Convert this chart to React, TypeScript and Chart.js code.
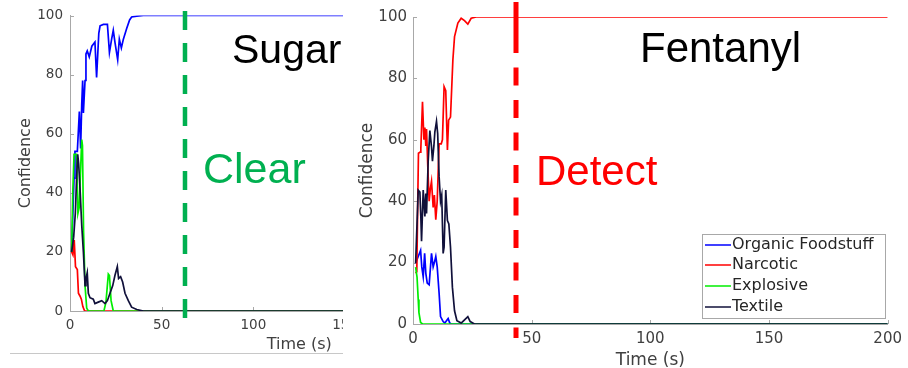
import React, { useEffect, useRef } from "react";
import { Chart, registerables } from "chart.js";

Chart.register(...registerables);

type Pair = [number, number];

// ---------- DATA ----------
const SERIES_LABELS = ["Organic Foodstuff", "Narcotic", "Explosive", "Textile"];
const SERIES_COLORS = ["#0000ff", "#ff0000", "#00ee00", "#10103a"];
const Y_TICK_STEP = 20;
const X_TICK_STEP = 50;

// Sugar panel (time s, confidence)
const sugarOrganic: Pair[] = [
  [0.9, 20], [2.2, 45], [2.7, 54], [4.0, 54], [5.1, 67.5], [5.8, 55], [6.4, 70], [6.9, 78], [7.3, 67],
  [8.2, 78], [8.7, 87], [9.4, 88], [10.5, 86], [11.9, 89.6], [13.6, 91], [14.5, 79], [15.7, 94],
  [16.4, 96.5], [18.2, 97], [20.4, 97], [21.5, 87.5], [22.7, 92], [23.6, 95], [24.5, 91], [26, 85],
  [26.9, 92], [28, 89], [29.1, 92], [30.9, 95.6], [32.5, 98.5], [33.6, 99.5], [36.4, 99.8], [40, 100],
  [250, 100],
];
const sugarNarcotic: Pair[] = [
  [0.9, 20], [1.6, 19], [2.3, 24], [3.0, 15], [4.0, 14], [4.6, 6], [5.5, 5], [6.2, 4], [7.0, 1.5], [8, 0],
  [250, 0],
];
const sugarExplosive: Pair[] = [
  [0.9, 20], [1.5, 40], [2.2, 53], [3.6, 53], [4.3, 33], [5.0, 35], [6.4, 58], [6.8, 56], [7.4, 27],
  [8.2, 8.6], [9.1, 1], [10, 0], [18.5, 0], [19.6, 3], [20.9, 12.5], [21.5, 12], [22.4, 3.5], [23.6, 0],
  [250, 0],
];
const sugarTextile: Pair[] = [
  [0.9, 20], [2.0, 25], [2.9, 33], [3.6, 45], [4.2, 53], [4.7, 50], [5.5, 41], [6.4, 29], [7.3, 20],
  [8.2, 8.6], [8.7, 11], [9.4, 13], [10, 6], [10.9, 4.5], [12.7, 4], [13.6, 2.5], [15.4, 3], [17.3, 3.5],
  [19.1, 2.5], [20.4, 3.5], [21.8, 6], [23.3, 8.6], [24.5, 12], [25.8, 15], [26.5, 11], [27.6, 11.6],
  [28.7, 9.8], [30, 6], [31.8, 3.5], [33.6, 1.3], [36.4, 0.5], [40, 0], [250, 0],
];

// Fentanyl panel
const fentOrganic: Pair[] = [
  [1.1, 19.8], [2.2, 22], [3.2, 24], [3.7, 18.6], [4.3, 15.4], [4.9, 23], [5.4, 16.5], [6.0, 13.3],
  [6.8, 12.8], [7.8, 23], [8.5, 18.6], [9.0, 20], [9.6, 22], [10.2, 18.6], [11.0, 10], [11.6, 2.4],
  [12.7, 0.8], [13.4, 0.3], [14.8, 1.8], [15.5, 0.3], [16.1, 0], [200, 0],
];
const fentNarcotic: Pair[] = [
  [1.1, 16.5], [1.6, 17], [2.0, 40], [2.3, 55.6], [3.0, 56], [3.3, 57], [4.0, 72.4], [4.6, 60], [5.0, 64],
  [5.4, 58], [5.7, 63.5], [6.2, 52], [6.8, 40], [7.3, 44], [7.8, 46.5], [8.5, 38], [9.0, 42], [9.6, 34],
  [10.2, 40], [11.0, 58.7], [11.9, 58.7], [12.4, 60], [13.1, 77.3], [13.8, 76], [14.5, 56.7], [15.0, 66.4],
  [15.8, 67.4], [16.8, 86], [17.5, 93.6], [18.9, 98], [20.3, 99.6], [21.7, 98.8], [23.1, 97.7],
  [24.5, 99.6], [26.6, 100], [200, 100],
];
const fentExplosive: Pair[] = [
  [1.1, 18.5], [1.7, 15.3], [2.2, 8], [2.5, 3.7], [3.2, 0.5], [4, 0], [200, 0],
];
const fentTextile: Pair[] = [
  [1.1, 19.8], [2.2, 43.6], [2.9, 43], [3.3, 35], [3.6, 27], [4.3, 43.6], [5.0, 35], [5.4, 42.5],
  [5.7, 36], [6.4, 53], [7.1, 63], [7.8, 57.7], [8.2, 53], [8.8, 58], [9.2, 62.5], [9.9, 66], [10.4, 62],
  [11.0, 48], [11.6, 40], [12.1, 42], [12.7, 23], [13.1, 25], [13.8, 43.6], [14.5, 33.7], [15.1, 32.6],
  [15.8, 25], [16.6, 12], [17.5, 4.3], [18.5, 1.1], [20.3, 0.3], [21.5, 1.2], [23.1, 2.4], [24.1, 0.8],
  [25.9, 0], [200, 0],
];

// decision markers (time, s)
const SUGAR_DECISION_T = 62.7;
const FENT_DECISION_T = 43.4;
const SUGAR_TEXTS = ["Sugar", "Clear"];
const FENT_TEXTS = ["Fentanyl", "Detect"];

// ---------- STYLE ----------
const AXIS_COLOR = "#a8a8a8";
const TICK_COLOR = "#404040";
const FONT = "DejaVu Sans";
const BIG_FONT = "Liberation Sans";

interface PanelSpec {
  width: number;
  height: number;
  xMax: number;
  series: Pair[][];
  pad: { top: number; right: number };
  yAxisW: number;
  xAxisH: number;
  tickSize: number;
  labelSize: number;
  yTickPad: number;
  xTickPad: number;
  yTitlePad: number;
  xTitlePad: number;
  marker: { t: number; color: string; width: number; y0: number; y1: number; first: number; dash: number; gap: number };
  texts: { text: string; x: number; y: number; size: number; color: string }[];
  legend?: { x0: number; y0: number; x1: number; y1: number; rows: number[]; lineX0: number; lineX1: number; textX: number; size: number };
}

const leftSpec: PanelSpec = {
  width: 560,
  height: 368,
  xMax: 250,
  series: [sugarOrganic, sugarNarcotic, sugarExplosive, sugarTextile],
  pad: { top: 15.5, right: 31.5 },
  yAxisW: 70,
  xAxisH: 57,
  tickSize: 13.5,
  labelSize: 16,
  yTickPad: 7,
  xTickPad: 6,
  yTitlePad: 16.4,
  xTitlePad: 13.5,
  marker: { t: SUGAR_DECISION_T, color: "#00b050", width: 4.5, y0: 11, y1: 323, first: 19, dash: 19, gap: 13 },
  texts: [
    { text: SUGAR_TEXTS[0], x: 232, y: 63, size: 41, color: "#000000" },
    { text: SUGAR_TEXTS[1], x: 203, y: 183, size: 43, color: "#00b050" },
  ],
};

const rightSpec: PanelSpec = {
  width: 553,
  height: 368,
  xMax: 200,
  series: [fentOrganic, fentNarcotic, fentExplosive, fentTextile],
  pad: { top: 17, right: 16 },
  yAxisW: 58,
  xAxisH: 44,
  tickSize: 15,
  labelSize: 17,
  yTickPad: 6,
  xTickPad: 6,
  yTitlePad: 2.5,
  xTitlePad: -3,
  marker: { t: FENT_DECISION_T, color: "#ff0000", width: 5, y0: 2, y1: 338, first: 51, dash: 18, gap: 14.5 },
  texts: [
    { text: FENT_TEXTS[0], x: 285, y: 62, size: 42, color: "#000000" },
    { text: FENT_TEXTS[1], x: 181, y: 185, size: 42, color: "#ff0000" },
  ],
  legend: { x0: 347, y0: 234, x1: 530, y1: 318, rows: [245, 265, 286, 307], lineX0: 350, lineX1: 376, textX: 377, size: 16 },
};

function buildChart(canvas: HTMLCanvasElement, spec: PanelSpec) {
  const overlay = {
    id: "overlay",
    beforeDatasetsDraw(chart: any) {
      const { ctx, chartArea } = chart;
      const xs = chart.scales.x;
      const ys = chart.scales.y;
      ctx.save();
      ctx.strokeStyle = AXIS_COLOR;
      ctx.lineWidth = 1;
      ctx.beginPath();
      for (const t of xs.ticks) {
        const px = Math.round(xs.getPixelForValue(t.value)) + 0.5;
        if (px > chartArea.right + 1) continue;
        ctx.moveTo(px, chartArea.bottom);
        ctx.lineTo(px, chartArea.bottom - 4);
      }
      for (const t of ys.ticks) {
        const py = Math.round(ys.getPixelForValue(t.value)) + 0.5;
        ctx.moveTo(chartArea.left, py);
        ctx.lineTo(chartArea.left + 4, py);
      }
      ctx.stroke();
      ctx.restore();
    },
    afterDraw(chart: any) {
      const { ctx } = chart;
      const xs = chart.scales.x;
      const m = spec.marker;
      ctx.save();
      // dashed decision line
      const px = xs.getPixelForValue(m.t);
      ctx.strokeStyle = m.color;
      ctx.lineWidth = m.width;
      ctx.beginPath();
      let y = m.y0;
      let len = m.first;
      while (y < m.y1) {
        const e = Math.min(y + len, m.y1);
        ctx.moveTo(px, y);
        ctx.lineTo(px, e);
        y = y + len + m.gap;
        len = m.dash;
      }
      ctx.stroke();
      // big texts
      ctx.textBaseline = "alphabetic";
      ctx.textAlign = "left";
      for (const tx of spec.texts) {
        ctx.font = `${tx.size}px "${BIG_FONT}"`;
        ctx.fillStyle = tx.color;
        ctx.fillText(tx.text, tx.x, tx.y);
      }
      // legend
      const lg = spec.legend;
      if (lg) {
        ctx.fillStyle = "#ffffff";
        ctx.fillRect(lg.x0, lg.y0, lg.x1 - lg.x0, lg.y1 - lg.y0);
        ctx.strokeStyle = "#a8a8a8";
        ctx.lineWidth = 1;
        ctx.strokeRect(lg.x0 + 0.5, lg.y0 + 0.5, lg.x1 - lg.x0, lg.y1 - lg.y0);
        ctx.font = `${lg.size}px "${FONT}"`;
        ctx.textBaseline = "middle";
        SERIES_LABELS.forEach((lab, i) => {
          const ry = lg.rows[i];
          ctx.strokeStyle = SERIES_COLORS[i];
          ctx.lineWidth = 1.5;
          ctx.beginPath();
          ctx.moveTo(lg.lineX0, ry);
          ctx.lineTo(lg.lineX1, ry);
          ctx.stroke();
          ctx.fillStyle = "#262626";
          ctx.fillText(lab, lg.textX, ry);
        });
      }
      ctx.restore();
    },
  };

  const datasets = spec.series.map((s, i) => ({
    label: SERIES_LABELS[i],
    data: s.map(([x, y]) => ({ x, y })),
    borderColor: SERIES_COLORS[i],
    backgroundColor: SERIES_COLORS[i],
    borderWidth: 1.7,
    pointRadius: 0,
    tension: 0,
    fill: false,
    order: 10 - i,
  }));

  return new Chart(canvas, {
    type: "line",
    data: { datasets },
    options: {
      responsive: false,
      devicePixelRatio: 1,
      animation: false,
      events: [],
      layout: { padding: { left: 0, top: spec.pad.top, right: spec.pad.right, bottom: 0 } },
      plugins: { legend: { display: false }, tooltip: { enabled: false } },
      scales: {
        x: {
          type: "linear",
          min: 0,
          max: spec.xMax,
          border: { display: true, color: AXIS_COLOR, width: 1 },
          grid: { display: false, drawTicks: false },
          ticks: {
            stepSize: X_TICK_STEP,
            padding: spec.xTickPad,
            color: TICK_COLOR,
            font: { family: FONT, size: spec.tickSize },
            maxRotation: 0,
            autoSkip: false,
          },
          title: {
            display: true,
            text: "Time (s)",
            color: TICK_COLOR,
            font: { family: FONT, size: spec.labelSize },
            padding: { top: 0, bottom: spec.xTitlePad },
          },
          afterFit: (s: any) => {
            s.height = spec.xAxisH;
          },
        },
        y: {
          type: "linear",
          min: 0,
          max: 100,
          border: { display: true, color: AXIS_COLOR, width: 1 },
          grid: { display: false, drawTicks: false },
          ticks: {
            stepSize: Y_TICK_STEP,
            padding: spec.yTickPad,
            color: TICK_COLOR,
            font: { family: FONT, size: spec.tickSize },
          },
          title: {
            display: true,
            text: "Confidence",
            color: TICK_COLOR,
            font: { family: FONT, size: spec.labelSize },
            padding: { top: spec.yTitlePad, bottom: 0 },
          },
          afterFit: (s: any) => {
            s.width = spec.yAxisW;
          },
        },
      },
    },
    plugins: [overlay],
  } as any);
}

export default function App() {
  const leftRef = useRef<HTMLCanvasElement>(null);
  const rightRef = useRef<HTMLCanvasElement>(null);
  useEffect(() => {
    const a = buildChart(leftRef.current!, leftSpec);
    const b = buildChart(rightRef.current!, rightSpec);
    return () => {
      a.destroy();
      b.destroy();
    };
  }, []);
  return (
    <div style={{ position: "fixed", left: 0, top: 0, width: 908, height: 368, background: "#ffffff", overflow: "hidden" }}>
      <div style={{ position: "absolute", left: 0, top: 0, width: 343, height: 368, overflow: "hidden" }}>
        <canvas ref={leftRef} width={leftSpec.width} height={leftSpec.height} style={{ display: "block", width: leftSpec.width, height: leftSpec.height }} />
      </div>
      <div style={{ position: "absolute", left: 10, top: 353, width: 333, height: 1, background: "#c8c8c8" }} />
      <div style={{ position: "absolute", left: 355, top: 0, width: rightSpec.width, height: rightSpec.height }}>
        <canvas ref={rightRef} width={rightSpec.width} height={rightSpec.height} style={{ display: "block", width: rightSpec.width, height: rightSpec.height }} />
      </div>
    </div>
  );
}
